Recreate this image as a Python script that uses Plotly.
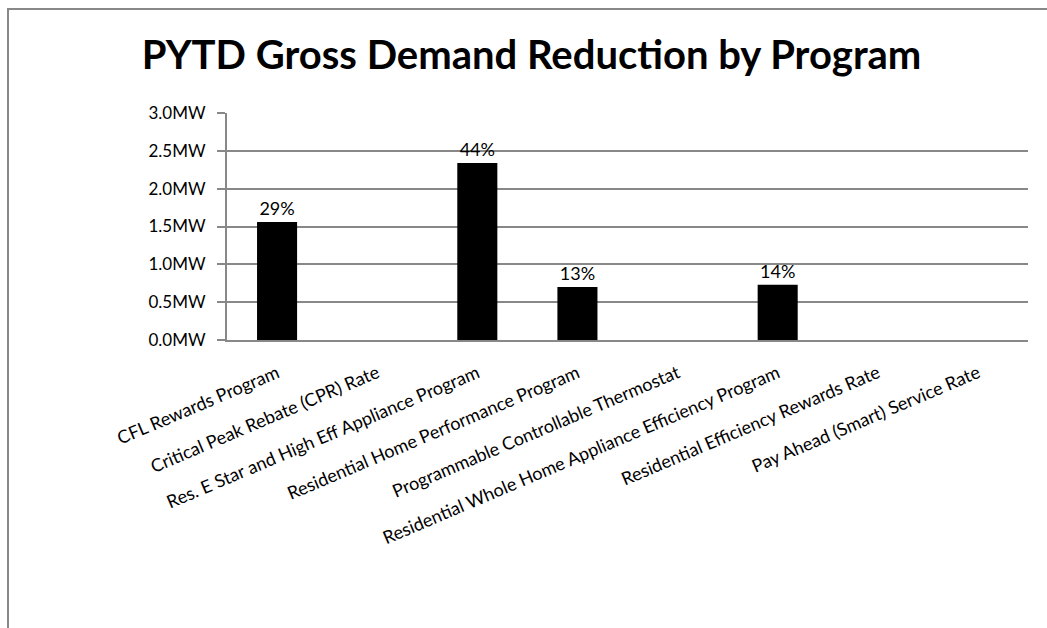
import plotly.graph_objects as go

categories = [
    "CFL Rewards Program",
    "Critical Peak Rebate (CPR) Rate",
    "Res. E Star and High Eff Appliance Program",
    "Residential Home Performance Program",
    "Programmable Controllable Thermostat",
    "Residential Whole Home Appliance Efficiency Program",
    "Residential Efficiency Rewards Rate",
    "Pay Ahead (Smart) Service Rate",
]
values_mw = [1.56, 0.0, 2.34, 0.70, 0.0, 0.73, 0.0, 0.0]
pct_labels = ["29%", "", "44%", "13%", "", "14%", "", ""]
y_ticks = [0.0, 0.5, 1.0, 1.5, 2.0, 2.5, 3.0]
y_tick_labels = ["0.0MW", "0.5MW", "1.0MW", "1.5MW", "2.0MW", "2.5MW", "3.0MW"]

W, H = 1047, 628
L, R, T, B = 227, 19, 113, 288
pw, ph = W - L - R, H - T - B

FONT = "Lato"

fig = go.Figure()
fig.add_trace(go.Bar(
    x=categories,
    y=values_mw,
    text=pct_labels,
    textposition="outside",
    textfont=dict(family=FONT, size=18, color="black"),
    cliponaxis=False,
    marker=dict(color="black", line=dict(width=0)),
    hoverinfo="x+y",
))

def px_x(p):
    return (p - L) / pw

def px_y(p):
    return 1 - (p - T) / ph

fig.update_layout(
    width=W, height=H,
    margin=dict(l=L, r=R, t=T, b=B, autoexpand=False),
    paper_bgcolor="white",
    plot_bgcolor="white",
    showlegend=False,
    bargap=0.6,
    title=dict(
        text="<b>PYTD Gross Demand Reduction by Program</b>",
        font=dict(family=FONT, size=40, color="black"),
        x=531.5 / W, xanchor="center",
        y=1 - 55 / H, yanchor="middle",
        xref="container", yref="container",
    ),
    xaxis=dict(
        type="category",
        tickangle=-23,
        tickfont=dict(family=FONT, size=18, color="black"),
        showline=True, linecolor="#888888", linewidth=2,
        ticks="", showgrid=False,
        ticklabelstandoff=14,
    ),
    yaxis=dict(
        range=[0, 3.0],
        tickvals=y_ticks,
        ticktext=y_tick_labels,
        tickfont=dict(family=FONT, size=17, color="black"),
        showline=True, linecolor="#888888", linewidth=2,
        ticks="outside", ticklen=8, tickcolor="#888888", tickwidth=2,
        ticklabelstandoff=8,
        showgrid=True, gridcolor="#888888", gridwidth=2,
        zeroline=False,
    ),
    shapes=[dict(
        type="rect", xref="paper", yref="paper",
        x0=px_x(8), x1=px_x(1060), y0=px_y(700), y1=px_y(9),
        line=dict(color="#888888", width=2), fillcolor="rgba(0,0,0,0)",
        layer="below",
    )],
)

fig.write_html("out.html")
